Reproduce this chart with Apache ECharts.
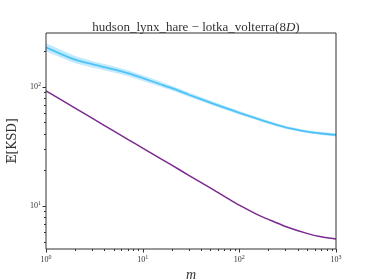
<!DOCTYPE html>
<html><head><meta charset="utf-8">
<script src="https://cdn.jsdelivr.net/npm/echarts@6/dist/echarts.min.js"></script>
<style>html,body{margin:0;padding:0;background:#fff}#c{width:374px;height:280px}</style>
</head><body><div id="c"></div>
<script>
const mValues   = [1,2,3,5,7,10,15,20,30,50,70,100,150,200,300,500,700,1000];
const blueMean  = [213.8,168.3,154.2,139.6,129.7,118.0,105.2,97.0,85.5,73.5,66.7,60.3,54.1,50.1,45.5,41.9,40.4,39.3];
const blueLower = [197.2,157.0,144.5,131.5,122.5,111.6,100.0,92.6,82.1,70.8,64.4,58.4,52.5,48.6,44.3,40.8,39.3,38.2];
const blueUpper = [231.8,180.4,164.5,148.3,137.3,124.7,110.7,101.6,89.1,76.3,69.0,62.3,55.7,51.6,46.8,43.1,41.5,40.4];
const purpleMean= [92.0,66.1,54.3,42.5,36.1,30.5,25.1,21.9,18.0,14.1,12.0,10.1,8.51,7.67,6.70,5.86,5.48,5.25];
const xMajor = [1,10,100,1000];
const xMinor = [2,3,4,5,6,7,8,9,20,30,40,50,60,70,80,90,200,300,400,500,600,700,800,900];
const yMajor = [10,100];
const yMinor = [5,6,7,8,9,20,30,40,50,60,70,80,90,200];
const xMin = 1, xMax = 1000, yMin = 4.33, yMax = 282;

const serif = 'Liberation Serif';
const lg = Math.log10;
const supFmt = v => '10{s|' + Math.round(lg(v)) + '}';
const labRich = {s:{fontSize:6,verticalAlign:'top',padding:[0,0,5,0],fontFamily:serif,color:'#333'}};
const pair = (xs, ys) => xs.map((x,i)=>[x, ys[i]]);

const chart = echarts.init(document.getElementById('c'), null, {renderer:'canvas'});
const labStyle = {show:true, margin:5, fontFamily:serif, fontSize:8, color:'#333', rich:labRich, formatter:supFmt};
chart.setOption({
  animation:false,
  title:{text:'hudson_lynx_hare − lotka_volterra(8{i|D})', left:191, top:16, textAlign:'center',
    textStyle:{fontFamily:serif, fontSize:13, fontWeight:'normal', color:'#333',
      rich:{i:{fontFamily:serif, fontStyle:'italic', fontSize:13, color:'#333'}}}},
  grid:{left:46, right:38, top:33, bottom:31, containLabel:false, outerBoundsMode:'none',
        show:true, borderColor:'#333', borderWidth:1, backgroundColor:'rgba(0,0,0,0)', z:10},
  xAxis:[
    {type:'log', min:xMin, max:xMax, position:'bottom',
     axisLine:{show:false}, axisTick:{show:false}, axisLabel:labStyle, splitLine:{show:false},
     name:'m', nameLocation:'middle', nameGap:18,
     nameTextStyle:{fontFamily:serif, fontStyle:'italic', fontSize:14, color:'#333'}}
  ],
  yAxis:[
    {type:'log', min:yMin, max:yMax, position:'left',
     axisLine:{show:false}, axisTick:{show:false},
     axisLabel:Object.assign({}, labStyle, {showMinLabel:false, showMaxLabel:false}),
     splitLine:{show:false},
     name:'𝔼[KSD]', nameLocation:'middle', nameGap:20, nameRotate:90,
     nameTextStyle:{fontFamily:'DejaVu Serif, Liberation Serif', fontSize:12, color:'#333'}}
  ],
  series:[
    {type:'custom', data:[[xMin, yMin]], silent:true, clip:true,
     renderItem:(params, api) => {
       const up = mValues.map((m,i)=>api.coord([m, blueUpper[i]]));
       const lo = mValues.map((m,i)=>api.coord([m, blueLower[i]])).reverse();
       return {type:'polygon', shape:{points:up.concat(lo)},
               style:{fill:'rgba(79,195,247,0.35)', stroke:null}};
     }},
    {type:'line', data:pair(mValues, blueMean), smooth:0.3, symbol:'none',
     lineStyle:{color:'#4fc3f7', width:1.8}},
    {type:'line', data:pair(mValues, purpleMean), smooth:0.3, symbol:'none',
     lineStyle:{color:'#7b2a8f', width:1.5}}
  ]
});

// axis ticks positioned through the chart's own log scales
const fin = {xAxisIndex:0, yAxisIndex:0};
const ticks = [];
const tickStyle = {stroke:'#333', lineWidth:1};
const xt = (v, len) => { const p = chart.convertToPixel(fin, [v, yMin]); const x = Math.round(p[0]) + 0.5;
  ticks.push({type:'line', z:100, silent:true, shape:{x1:x, y1:p[1], x2:x, y2:p[1]+len}, style:tickStyle}); };
const yt = (v, len) => { const p = chart.convertToPixel(fin, [xMin, v]); const y = Math.round(p[1]) + 0.5;
  ticks.push({type:'line', z:100, silent:true, shape:{x1:p[0], y1:y, x2:p[0]-len, y2:y}, style:tickStyle}); };
xMajor.forEach(v=>xt(v,3.5)); xMinor.forEach(v=>xt(v,2));
yMajor.forEach(v=>yt(v,3.5)); yMinor.forEach(v=>yt(v,2));
chart.setOption({graphic:{elements:ticks}});
</script></body></html>
